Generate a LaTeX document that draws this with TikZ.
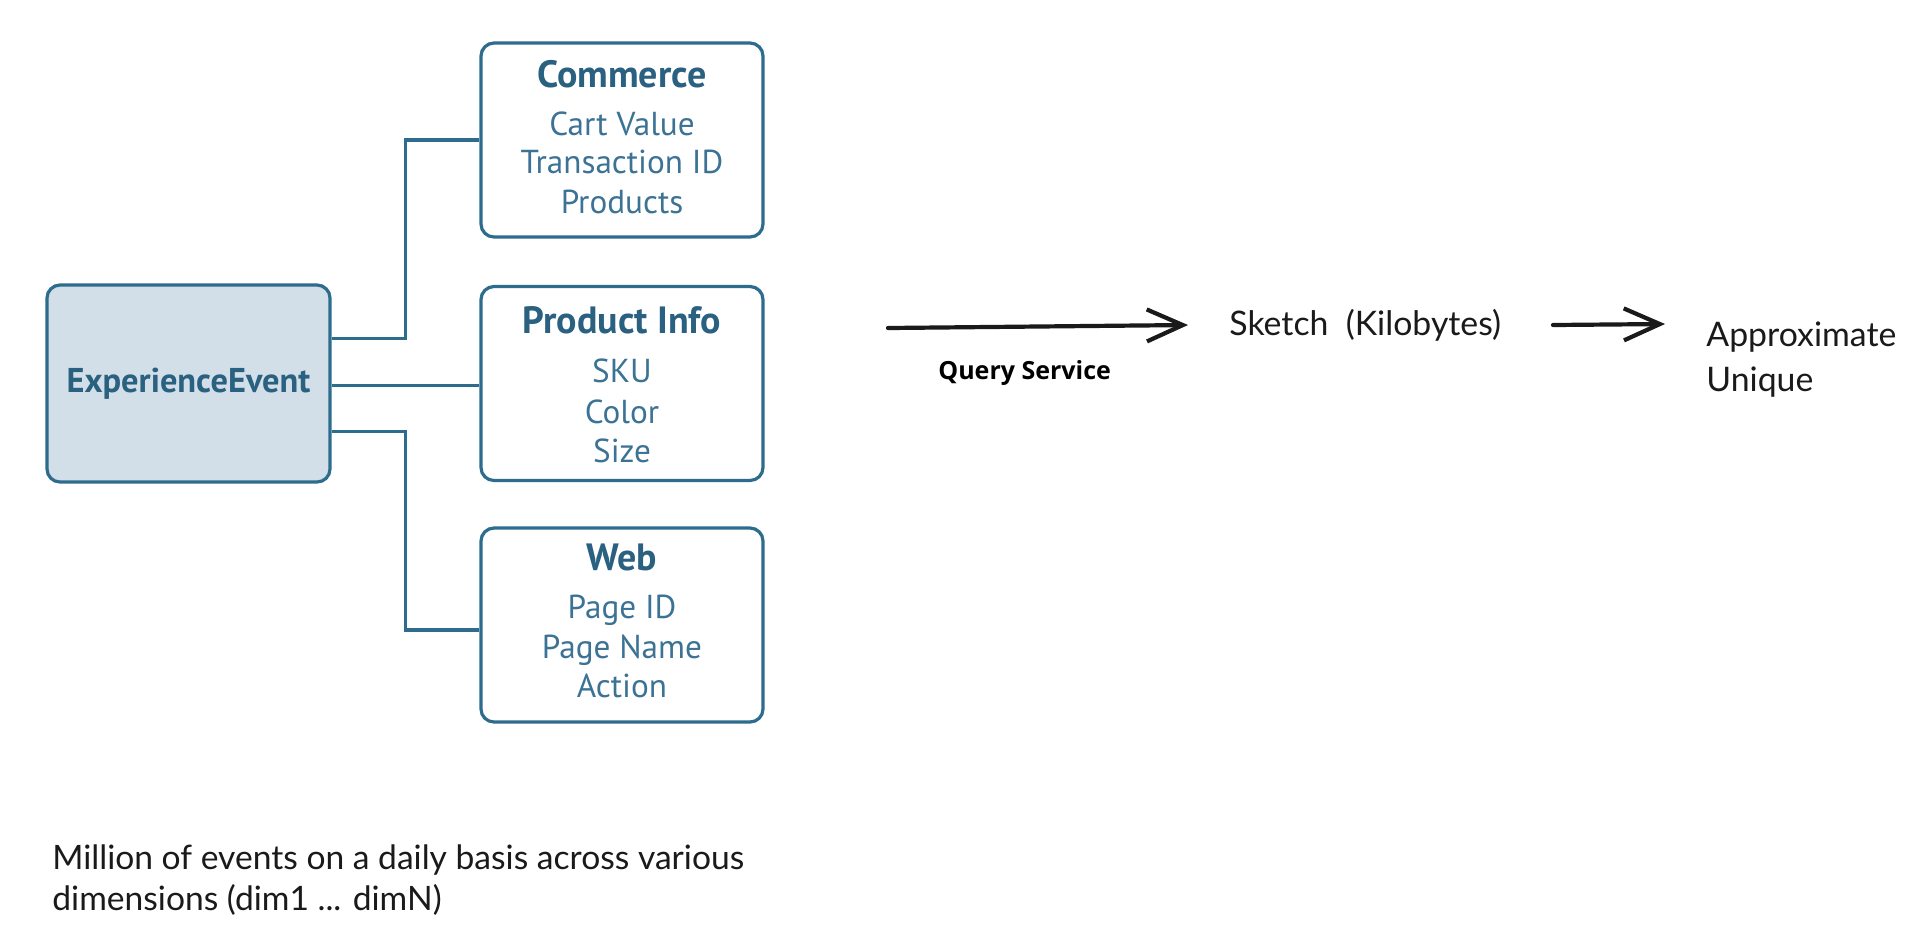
\documentclass[tikz,border=0pt]{standalone}
\usepackage{fontspec}
\setmainfont{PT Sans}
\newfontfamily\lato{Lato}
\newfontfamily\osans{Open Sans}
\usetikzlibrary{arrows.meta,calc}
\definecolor{boxline}{HTML}{2E6C8E}
\definecolor{boxfill}{HTML}{D2DFE8}
\definecolor{titlecol}{HTML}{2A6080}
\definecolor{itemcol}{HTML}{3C7395}
\definecolor{inkcol}{HTML}{1A1A1A}
\tikzset{
  dimbox/.style={draw=boxline, line width=1.6pt, rounded corners=6.5pt, fill=white,
    minimum width=141pt, minimum height=97pt, inner sep=0pt},
  evbox/.style={dimbox, fill=boxfill, minimum width=141.5pt, minimum height=98.5pt,
    font=\bfseries\fontsize{17.2}{20}\selectfont, text=titlecol},
  ttl/.style={font=\bfseries\fontsize{19}{22}\selectfont, text=titlecol, inner sep=0pt,
    text height=0.72em, text depth=0pt},
  itm/.style={font=\fontsize{16.6}{19}\selectfont, text=itemcol, inner sep=0pt,
    text height=0.72em, text depth=0pt},
  link/.style={draw=boxline, line width=1.6pt},
  plain/.style={font=\lato\fontsize{16.9}{20}\selectfont, text=inkcol, inner sep=0pt,
    text height=0.72em, text depth=0pt, anchor=west},
  note/.style={font=\lato\fontsize{16.8}{20}\selectfont, text=inkcol, inner sep=0pt,
    text height=0.72em, text depth=0pt, anchor=west},
  qlabel/.style={font=\osans\bfseries\fontsize{12.5}{15}\selectfont, text=black, inner sep=0pt,
    text height=0.72em, text depth=0pt, anchor=west},
  sketcharrow/.style={draw=inkcol, line width=2.1pt, line cap=round, line join=round,
    -{Straight Barb[length=18pt, width=16pt, line width=2.1pt]}},
}
\begin{document}
\begin{tikzpicture}[x=0.5pt, y=-0.5pt]
\useasboundingbox (0,0) rectangle (1920,950);
\fill[white] (0,0) rectangle (1920,950);

% main event box
\node[evbox] (ee) at (188.5,383.5) {ExperienceEvent};

% dimension boxes
\node[dimbox] (com) at (622,140) {};
\node[dimbox] (pi) at (622,383.5) {};
\node[dimbox] (web) at (622,625) {};

\node[ttl] (comt) at (622,80) {Commerce};
\node[itm] (com1) at (622,128) {Cart Value};
\node[itm] (com2) at (622,166) {Transaction ID};
\node[itm] (com3) at (622,206) {Products};

\node[ttl] (pit) at (622,326) {Product Info};
\node[itm] (pi1) at (622,375) {SKU};
\node[itm] (pi2) at (622,416) {Color};
\node[itm] (pi3) at (622,455) {Size};

\node[ttl] (webt) at (622,563) {Web};
\node[itm] (web1) at (622,611) {Page ID};
\node[itm] (web2) at (622,651) {Page Name};
\node[itm] (web3) at (622,690) {Action};

% connectors
\draw[link] ([yshift=22.5pt]ee.east) -| ($(ee.east)!.5!(com.west)$) |- (com.west);
\draw[link] ([yshift=-1pt]ee.east) -- ([yshift=-1pt]pi.west);
\draw[link] ([yshift=-24pt]ee.east) -| ($(ee.east)!.5!(web.west)$) |- ([yshift=-2.5pt]web.west);

% right part
\coordinate (a1s) at (888,328);
\coordinate (a1e) at (1188,325);
\coordinate (a2s) at (1553,325);
\coordinate (a2e) at (1665,324);
\draw[sketcharrow] (a1s) -- (a1e);
\draw[sketcharrow] (a2s) -- (a2e);

\node[qlabel] (qs) at (938,372) {Query Service};
\node[plain] (sk) at (1229,328) {Sketch\ \ (Kilobytes)};
\node[plain] (ap1) at (1706,339) {Approximate};
\node[plain] (ap2) at (1706,384) {Unique};

% note
\node[note] (n1) at (52,862) {Million of events on a daily basis across various};
\node[note] (n2) at (52,903) {dimensions (dim1 ... dimN)};
\end{tikzpicture}
\end{document}
